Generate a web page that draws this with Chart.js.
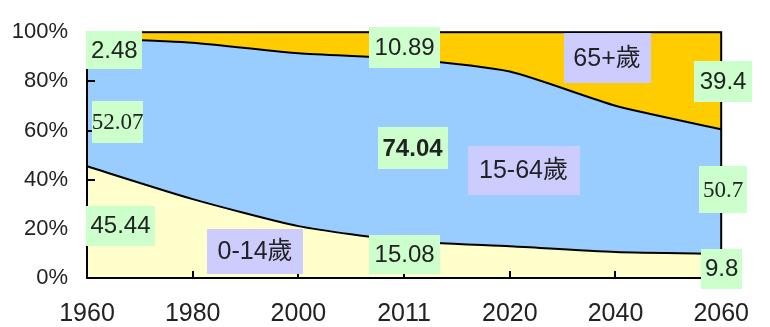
<!DOCTYPE html>
<html>
<head>
<meta charset="utf-8">
<script src="https://cdn.jsdelivr.net/npm/chart.js@4/dist/chart.umd.min.js"></script>
<style>
html,body{margin:0;padding:0;background:#fff;}
#wrap{width:770px;height:327px;position:relative;}
</style>
</head>
<body>
<div id="wrap"><canvas id="c" width="770" height="327"></canvas></div>
<script>
// ---- data ----
const years = ['1960', '1980', '2000', '2011', '2020', '2040', '2060'];
const age0to14 = [45.44, 32.1, 21.1, 15.08, 12.9, 10.6, 9.8];
const age15to64 = [52.07, 63.6, 70.3, 74.04, 71.1, 59.5, 50.7];
const age65plus = [2.48, 4.3, 8.6, 10.89, 16.0, 29.9, 39.4];
const groupNames = ['0-14歲', '15-64歲', '65+歲'];
const yTicks = [0, 20, 40, 60, 80, 100];

// ---- annotation boxes (text from data, placement in scale units) ----
const SANS = '"Liberation Sans", Arial, "Noto Sans CJK TC", sans-serif';
const SERIF = '"Liberation Serif", "Times New Roman", serif';
const GREEN = '#CCFFCC', LAV = '#CCCCFF';
const boxes = [
  {text: String(age65plus[0]), xi: 0.258, yv: 92.8, w: 56, h: 38, bg: GREEN, font: '24px ' + SANS},
  {text: String(age15to64[0]), xi: 0.29, yv: 63.5, w: 51, h: 42, bg: GREEN, font: '23px ' + SERIF},
  {text: String(age0to14[0]), xi: 0.317, yv: 21.3, w: 69, h: 40, bg: GREEN, font: '24px ' + SANS},
  {text: groupNames[0], xi: 1.59, yv: 10.8, w: 96, h: 45, bg: LAV, font: '25px ' + SANS},
  {text: String(age0to14[3]), xi: 3.005, yv: 9.7, w: 71, h: 39, bg: GREEN, font: '24px ' + SANS},
  {text: String(age65plus[3]), xi: 3.005, yv: 93.7, w: 71, h: 41, bg: GREEN, font: '24px ' + SANS},
  {text: String(age15to64[3]), xi: 3.08, yv: 52.9, w: 70, h: 42, bg: GREEN, font: 'bold 24px ' + SANS},
  {text: groupNames[1], xi: 4.13, yv: 43.9, w: 112, h: 49, bg: LAV, font: '25px ' + SANS},
  {text: groupNames[2], xi: 4.92, yv: 89.4, w: 87, h: 50, bg: LAV, font: '25px ' + SANS},
  {text: String(age65plus[6]), xi: 6.018, yv: 80, w: 58, h: 41, bg: GREEN, font: '24px ' + SANS},
  {text: String(age15to64[6]), xi: 6.018, yv: 35.9, w: 48, h: 47, bg: GREEN, font: '23px ' + SERIF},
  {text: String(age0to14[6]), xi: 6.004, yv: 3.8, w: 41, h: 40, bg: GREEN, font: '24px ' + SANS}
];

const framePlugin = {
  id: 'frame',
  afterDatasetsDraw(chart) {
    const {ctx, chartArea: a, scales: {x, y}} = chart;
    ctx.save();
    ctx.strokeStyle = '#000';
    ctx.lineWidth = 2;
    ctx.strokeRect(a.left, a.top, a.right - a.left, a.bottom - a.top);
    ctx.beginPath();
    for (let i = 1; i < years.length - 1; i++) {
      const px = Math.round(x.getPixelForValue(i));
      ctx.moveTo(px, a.bottom);
      ctx.lineTo(px, a.bottom - 7);
    }
    for (const t of yTicks.slice(1, -1)) {
      const py = Math.round(y.getPixelForValue(t));
      ctx.moveTo(a.left, py);
      ctx.lineTo(a.left + 8, py);
    }
    ctx.stroke();
    ctx.restore();
  },
  afterDraw(chart) {
    const {ctx, scales: {x, y}} = chart;
    ctx.save();
    for (const b of boxes) {
      const cx = x.getPixelForValue(b.xi);
      const cy = y.getPixelForValue(b.yv);
      ctx.fillStyle = b.bg;
      ctx.fillRect(Math.round(cx - b.w / 2), Math.round(cy - b.h / 2), b.w, b.h);
      ctx.fillStyle = '#222';
      ctx.font = b.font;
      ctx.textAlign = 'center';
      ctx.textBaseline = 'middle';
      ctx.fillText(b.text, cx, cy + 1);
    }
    ctx.restore();
  }
};

new Chart(document.getElementById('c'), {
  type: 'line',
  data: {
    labels: years,
    datasets: [
      {label: groupNames[0], data: age0to14, fill: 'origin', backgroundColor: '#FFFFCC', borderColor: '#000', borderWidth: 2, pointRadius: 0, tension: 0.2},
      {label: groupNames[1], data: age15to64, fill: '-1', backgroundColor: '#99CCFF', borderColor: '#000', borderWidth: 2, pointRadius: 0, tension: 0.2},
      {label: groupNames[2], data: age65plus, fill: '-1', backgroundColor: '#FFCC00', borderColor: '#000', borderWidth: 0, pointRadius: 0, tension: 0.2}
    ]
  },
  options: {
    responsive: false,
    animation: false,
    devicePixelRatio: 1,
    layout: {padding: {left: 0, right: 31, top: 15, bottom: 0}},
    plugins: {legend: {display: false}, tooltip: {enabled: false}},
    elements: {line: {capBezierPoints: true}},
    scales: {
      x: {
        offset: false,
        grid: {display: false, drawTicks: false},
        border: {display: false},
        ticks: {color: '#222', font: {family: SANS, size: 25}, padding: 21, maxRotation: 0, autoSkip: false},
        afterFit(s) { s.height = 49; }
      },
      y: {
        stacked: true,
        min: 0, max: 100,
        grid: {display: false, drawTicks: false},
        border: {display: false},
        ticks: {stepSize: 20, color: '#222', font: {family: SANS, size: 22}, padding: 19, callback: v => v + '%'},
        afterFit(s) { s.width = 87; }
      }
    }
  },
  plugins: [framePlugin]
});
</script>
</body>
</html>
